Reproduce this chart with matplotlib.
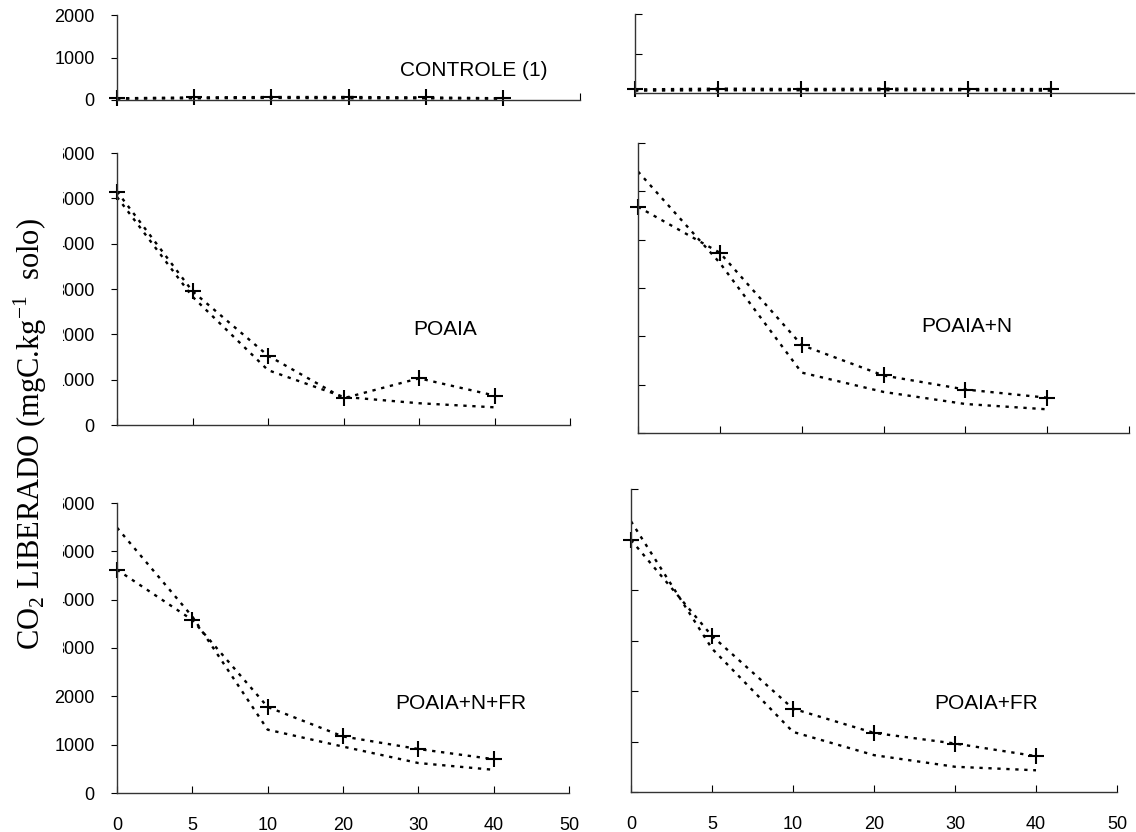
#%% --- Import required packages ---
import numpy as np
import matplotlib
matplotlib.use("Agg")
import matplotlib.pyplot as plt
from matplotlib.patches import Rectangle

plt.rcParams['font.family'] = ['Liberation Sans', 'DejaVu Sans']
plt.rcParams['mathtext.fontset'] = 'custom'
plt.rcParams['mathtext.rm'] = 'Liberation Serif'

#%% --- Data ---

# x categories (days), drawn equally spaced
dias = ["0", "5", "10", "20", "30", "40", "50"]

# Left column
controle_esq_obs = [40, 60, 70, 70, 60, 40]
controle_esq_est = [30, 40, 50, 40, 40, 30]
poaia_obs = [5150, 2950, 1530, 590, 1030, 650]
poaia_est = [5030, 2830, 1210, 620, 480, 390]
poaia_n_fr_obs = [4620, 3580, 1780, 1170, 910, 700]
poaia_n_fr_est = [5490, 3650, 1310, 960, 620, 480]

# Right column
controle_dir_obs = [90, 110, 100, 110, 100, 100]
controle_dir_est = [60, 70, 70, 70, 70, 60]
poaia_n_obs = [4680, 3730, 1820, 1190, 900, 730]
poaia_n_est = [5410, 3520, 1250, 850, 600, 490]
poaia_fr_obs = [4990, 3090, 1650, 1170, 960, 710]
poaia_fr_est = [5360, 2840, 1190, 730, 500, 430]

rotulos = ["CONTROLE (1)", "POAIA", "POAIA+N", "POAIA+N+FR", "POAIA+FR"]

#%% --- Helper definitions ---

W, H = 1136, 832

def px_axes(fig, x0, x1, ytop, ybot):
    """Add axes from pixel coordinates of the reference picture."""
    return fig.add_axes([x0 / W, 1 - ybot / H, (x1 - x0) / W, (ybot - ytop) / H])

dot_style = dict(color="black", linestyle=(0, (1.4, 2.4)), linewidth=1.7)

def draw_panel(ax, obs, est, ymax, yticks, left, xlabels, xticks, label, lx, ly):
    pos = np.arange(len(obs))
    ax.plot(pos, est, **dot_style)
    ax.plot(pos, obs, marker="+", markersize=11, markeredgewidth=1.5,
            clip_on=False, **dot_style)
    ax.set_xlim(0, 6)
    ax.set_ylim(0, ymax)
    for s in ["top", "right"]:
        ax.spines[s].set_visible(False)
    for s in ["left", "bottom"]:
        ax.spines[s].set_linewidth(1.0)
        ax.spines[s].set_color("#333333")
    ax.set_yticks(yticks)
    if left:
        ax.tick_params(axis="y", direction="out", length=4, pad=12, labelsize=13)
    else:
        ax.tick_params(axis="y", direction="in", length=5, labelleft=False)
    ax.set_xticks(xticks)
    if xlabels:
        ax.set_xticklabels([dias[i] for i in xticks])
        ax.tick_params(axis="x", direction="in", length=5, pad=17, labelsize=13)
    else:
        ax.tick_params(axis="x", direction="in", length=5, labelbottom=False)
    ax.patch.set_alpha(0)
    ax.text(lx, ly, label, fontsize=15, ha="center", va="center")

#%% --- Figure ---

fig = plt.figure(figsize=(W / 100, H / 100), dpi=100)

all_ticks = list(range(7))

ax_1 = px_axes(fig, 117, 580, 15, 100)
draw_panel(ax_1, controle_esq_obs, controle_esq_est, 2000, [0, 1000, 2000], True,
           False, [6], rotulos[0], 4.62, 700)

ax_2 = px_axes(fig, 635, 1134, 14, 93)
draw_panel(ax_2, controle_dir_obs, controle_dir_est, 2000, [0, 1000, 2000], False,
           False, [], "", 0, 0)

ax_3 = px_axes(fig, 117, 570, 153, 425)
draw_panel(ax_3, poaia_obs, poaia_est, 6000, range(0, 6001, 1000), True,
           False, all_ticks, rotulos[1], 4.34, 2100)

ax_4 = px_axes(fig, 638, 1129, 143, 433)
draw_panel(ax_4, poaia_n_obs, poaia_n_est, 6000, range(0, 6001, 1000), False,
           False, all_ticks, rotulos[2], 4.02, 2200)

ax_5 = px_axes(fig, 117, 569, 503, 793)
draw_panel(ax_5, poaia_n_fr_obs, poaia_n_fr_est, 6000, range(0, 6001, 1000), True,
           True, all_ticks, rotulos[3], 4.56, 1860)

ax_6 = px_axes(fig, 631, 1117, 489, 792)
draw_panel(ax_6, poaia_fr_obs, poaia_fr_est, 6000, range(0, 6001, 1000), False,
           True, all_ticks, rotulos[4], 4.38, 1750)

# White box of the y label (hides the first digit of some tick labels)
fig.patches.append(Rectangle((0, 1 - 665 / H), 63 / W, 525 / H,
                             transform=fig.transFigure, facecolor="white",
                             edgecolor="none", zorder=5))

fig.text(30 / W, 1 - 434 / H, r"$\mathrm{CO_2}$ LIBERADO (mgC.kg$^{-1}$  solo)",
         rotation=90, ha="center", va="center", fontsize=22,
         family="Liberation Serif", zorder=6)

plt.savefig("out.png", dpi=100)
